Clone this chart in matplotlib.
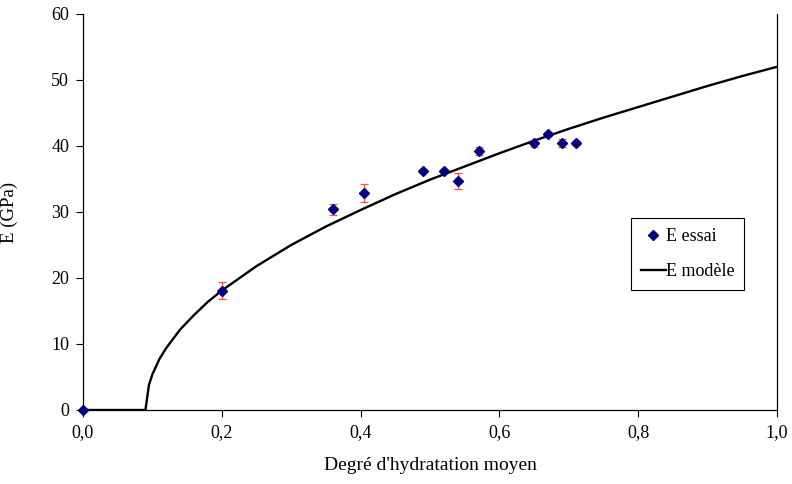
import matplotlib
matplotlib.use("Agg")
import matplotlib.pyplot as plt
from matplotlib.ticker import FuncFormatter

# Measured points (E essai)
alpha_test = [0.0, 0.2, 0.36, 0.405, 0.49, 0.52, 0.541, 0.57, 0.65, 0.67, 0.69, 0.711]
E_test = [0.0, 18.1, 30.4, 32.9, 36.2, 36.2, 34.7, 39.3, 40.4, 41.8, 40.4, 40.5]
E_err = [0.0, 1.3, 0.8, 1.4, 0.2, 0.3, 1.2, 0.6, 0.5, 0.3, 0.6, 0.3]

# Model curve (E modèle)
alpha_model = [0.0, 0.09, 0.095, 0.10, 0.11, 0.12, 0.14, 0.16, 0.18, 0.20, 0.25, 0.30,
               0.35, 0.40, 0.45, 0.50, 0.55, 0.60, 0.65, 0.70, 0.75, 0.80, 0.85,
               0.90, 0.95, 1.00]
E_model = [0.0, 0.0, 3.8, 5.4, 7.7, 9.4, 12.2, 14.4, 16.4, 18.1, 21.8, 25.0,
           27.8, 30.3, 32.7, 34.9, 36.9, 38.9, 40.8, 42.6, 44.3, 45.9, 47.5,
           49.1, 50.6, 52.0]

plt.rcParams['font.family'] = ['Liberation Serif', 'DejaVu Serif']

fig = plt.figure(figsize=(7.92, 4.84), dpi=100)
ax = fig.add_axes([83 / 792, 1 - 410 / 484, 694 / 792, 396 / 484])

ax.plot(alpha_model, E_model, color='black', linewidth=1.7, label='E modèle', zorder=2)
ax.errorbar(alpha_test, E_test, yerr=E_err, fmt='none', ecolor='#ff5050',
            elinewidth=0.9, capsize=3, capthick=0.9, zorder=3)
ax.plot(alpha_test, E_test, linestyle='none', marker='D', markersize=5.5,
        color='#000080', label='E essai', zorder=4, clip_on=False)

ax.set_xlim(0, 1)
ax.set_ylim(0, 60)
ax.set_xticks([0, 0.2, 0.4, 0.6, 0.8, 1.0])
ax.set_yticks(range(0, 61, 10))
ax.xaxis.set_major_formatter(FuncFormatter(lambda v, p: f"{v:.1f}".replace('.', ',')))
ax.tick_params(direction='out', length=5, width=0.8, labelsize=13, color='black')
ax.tick_params(axis='x', pad=5)
ax.tick_params(axis='y', pad=5)

ax.spines['top'].set_visible(False)
for s in ['left', 'bottom', 'right']:
    ax.spines[s].set_linewidth(0.9)
    ax.spines[s].set_color('black')

ax.set_xlabel("Degré d'hydratation moyen", fontsize=14)
ax.set_ylabel("E (GPa)", fontsize=13.5)
ax.xaxis.set_label_coords(347 / 694, -47 / 396)
ax.yaxis.set_label_coords(-65 / 694, 0.5)

handles, labels = ax.get_legend_handles_labels()
order = [1, 0]
leg = ax.legend([handles[i] for i in order], [labels[i] for i in order],
                loc='upper left', bbox_to_anchor=(547.7 / 694, (410 - 218.3) / 396),
                fontsize=13, frameon=True, fancybox=False, edgecolor='black',
                framealpha=1, handlelength=1.4, handletextpad=0.0,
                borderpad=0.55, labelspacing=1.0, borderaxespad=0)
leg.get_frame().set_linewidth(0.8)

fig.savefig('out.png', dpi=100)
